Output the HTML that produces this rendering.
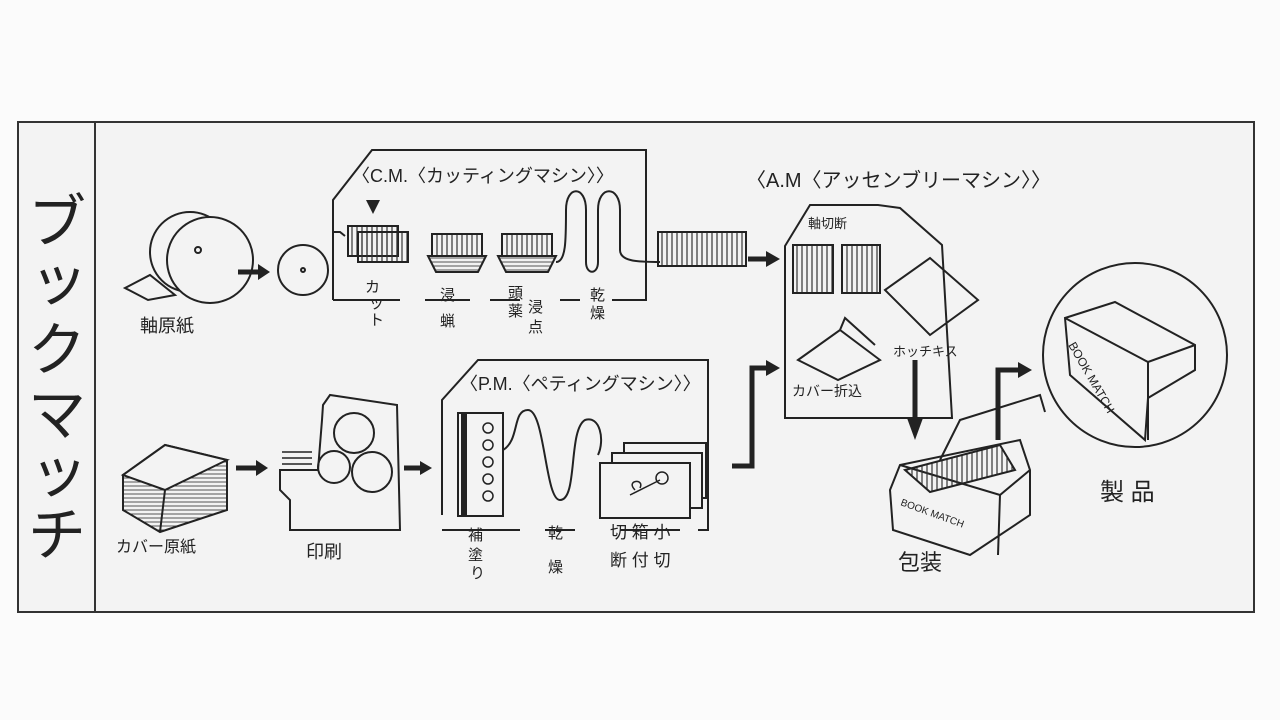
<!DOCTYPE html>
<html><head><meta charset="utf-8"><style>
html,body{margin:0;padding:0;background:#fbfbfb;width:1280px;height:720px;overflow:hidden}
svg{display:block}
text{font-family:"Liberation Sans","Noto Sans CJK JP",sans-serif;fill:#222}
</style></head><body>
<svg width="1280" height="720" viewBox="0 0 1280 720" xmlns="http://www.w3.org/2000/svg">
<defs>
<pattern id="v" width="5" height="10" patternUnits="userSpaceOnUse"><line x1="2" y1="0" x2="2" y2="10" stroke="#333" stroke-width="1.2"/></pattern>
<pattern id="h" width="10" height="4" patternUnits="userSpaceOnUse"><line x1="0" y1="2" x2="10" y2="2" stroke="#555" stroke-width="1"/></pattern>
</defs>
<rect x="0" y="0" width="1280" height="720" fill="#fbfbfb"/>
<rect x="18" y="122" width="1236" height="490" fill="#f3f3f3" stroke="#333" stroke-width="2"/>
<line x1="95" y1="122" x2="95" y2="612" stroke="#333" stroke-width="2"/>
<g font-size="58" fill="#222">
<text x="28" y="242">ブ</text><text x="30" y="300">ッ</text><text x="28" y="370">ク</text>
<text x="28" y="435">マ</text><text x="30" y="492">ッ</text><text x="28" y="555">チ</text>
</g>
<g fill="none" stroke="#222" stroke-width="2">
<circle cx="190" cy="252" r="40"/>
<circle cx="210" cy="260" r="43" fill="#f3f3f3"/>
<circle cx="198" cy="250" r="3"/>
<path d="M125 288 L150 275 L175 295 L148 300 Z"/>
<circle cx="303" cy="270" r="25"/><circle cx="303" cy="270" r="2"/>
<path d="M333 300 L333 200 L372 150 L646 150 L646 300 L612 300 M580 300 L560 300 M520 300 L490 300 M470 300 L425 300 M400 300 L333 300"/>
<path d="M333 232 L340 232 L345 236"/>
<rect x="348" y="226" width="50" height="30" fill="url(#v)"/>
<rect x="358" y="232" width="50" height="30" fill="url(#v)"/>
<rect x="432" y="234" width="50" height="22" fill="url(#v)"/>
<rect x="502" y="234" width="50" height="22" fill="url(#v)"/>
<path d="M428 256 h58 l-8 16 h-42 z M498 256 h58 l-8 16 h-42 z" fill="url(#h)"/>
<path d="M556 262 C566 262 566 240 566 210 C566 185 586 185 586 210 L586 262 C586 275 598 275 598 262 L598 210 C598 185 620 185 620 210 L620 250 C620 262 640 262 660 262"/>
<rect x="658" y="232" width="88" height="34" fill="url(#v)"/>
<path d="M442 515 L442 400 L478 360 L708 360 L708 530 L698 530 M680 530 L620 530 M575 530 L545 530 M520 530 L442 530"/>
<rect x="458" y="413" width="45" height="103"/>
<g stroke-width="1.5"><circle cx="488" cy="428" r="5"/><circle cx="488" cy="445" r="5"/><circle cx="488" cy="462" r="5"/><circle cx="488" cy="479" r="5"/><circle cx="488" cy="496" r="5"/></g>
<rect x="624" y="443" width="82" height="55" fill="#f3f3f3"/>
<rect x="612" y="453" width="90" height="55" fill="#f3f3f3"/>
<rect x="600" y="463" width="90" height="55" fill="#f3f3f3"/>
<path d="M630 495 L660 480 M635 490 C625 480 645 478 640 488" stroke-width="1.5"/><circle cx="662" cy="478" r="6" stroke-width="1.5"/>
<path d="M503 450 C520 440 512 410 528 410 C545 410 545 500 560 500 C578 500 568 430 585 420 C600 415 605 440 598 455"/>
<path d="M323 405 L330 395 L397 405 L400 530 L290 530 L290 500 L280 490 L280 470 L318 470 L322 420 Z"/>
<circle cx="354" cy="433" r="20"/><circle cx="334" cy="467" r="16"/><circle cx="372" cy="472" r="20"/>
<path d="M282 458 h30 M282 464 h30 M282 452 h30" stroke-width="1.5"/>
<path d="M123 475 L165 445 L227 460 L227 510 L160 532 L123 510 Z" fill="url(#h)"/>
<path d="M123 475 L165 445 L227 460 L165 490 Z" fill="#f3f3f3"/>
<path d="M165 490 L160 532"/>
<path d="M785 418 L785 246 L810 205 L878 205 L900 208 L942 245 L952 418 Z"/>
<rect x="793" y="245" width="40" height="48" fill="url(#v)"/><rect x="842" y="245" width="38" height="48" fill="url(#v)"/>
<path d="M885 290 L930 258 L978 300 L930 335 Z"/>
<path d="M798 360 L840 330 L880 360 L838 380 Z M840 330 L845 318 L875 345"/>
<path d="M890 490 L900 465 L1020 440 L1030 470 L1030 515 L970 555 L893 530 Z M900 465 L1000 495 L1030 470 M1000 495 L998 555"/>
<path d="M905 470 L1000 445 L1015 470 L930 492 Z" fill="url(#v)"/>
<path d="M940 460 L960 420 L1040 395 L1045 412"/>
<circle cx="1135" cy="355" r="92"/>
<path d="M1065 318 L1115 302 L1195 345 L1195 370 L1148 398 L1145 440 L1070 375 Z M1065 318 L1148 362 L1195 345 M1148 362 L1148 440"/>
</g>
<g fill="none" stroke="#222" stroke-width="5">
<line x1="238" y1="272" x2="258" y2="272"/>
<line x1="236" y1="468" x2="256" y2="468"/>
<line x1="404" y1="468" x2="422" y2="468"/>
<line x1="748" y1="259" x2="768" y2="259"/>
<path d="M732 466 L752 466 L752 368 L768 368"/>
<line x1="915" y1="360" x2="915" y2="420"/>
<path d="M998 440 L998 370 L1020 370"/>
</g>
<g fill="#222">
<polygon points="258,264 270,272 258,280"/>
<polygon points="256,460 268,468 256,476"/>
<polygon points="420,461 432,468 420,475"/>
<polygon points="766,251 780,259 766,267"/>
<polygon points="766,360 780,368 766,376"/>
<polygon points="907,418 915,440 923,418"/>
<polygon points="1018,362 1032,370 1018,378"/>
<polygon points="366,200 380,200 373,214"/>
<rect x="461" y="414" width="6" height="101"/>
</g>
<g font-size="15">
<text x="352" y="182" font-size="18">〈C.M.〈カッティングマシン〉〉</text>
<text x="460" y="390" font-size="18">〈P.M.〈ペティングマシン〉〉</text>
<text x="746" y="187" font-size="20">〈A.M〈アッセンブリーマシン〉〉</text>
<text x="140" y="332" font-size="18">軸原紙</text>
<text x="116" y="552" font-size="16">カバー原紙</text>
<text x="306" y="558" font-size="18">印刷</text>
<text x="365" y="292">カ</text><text x="369" y="308">ッ</text><text x="369" y="325">ト</text>
<text x="440" y="300">浸</text><text x="440" y="326">蝋</text>
<text x="508" y="298">頭</text><text x="508" y="316">薬</text><text x="528" y="312">浸</text><text x="528" y="332">点</text>
<text x="590" y="300">乾</text><text x="590" y="318">燥</text>
<text x="468" y="540">補</text><text x="468" y="560">塗</text><text x="470" y="578">り</text>
<text x="548" y="538">乾</text><text x="548" y="572">燥</text>
<text x="610" y="538" font-size="17">切 箱 小</text>
<text x="610" y="566" font-size="17">断 付 切</text>
<text x="808" y="228" font-size="13">軸切断</text>
<text x="893" y="356" font-size="13">ホッチキス</text>
<text x="792" y="396" font-size="14">カバー折込</text>
<text x="1100" y="500" font-size="24">製 品</text>
<text x="898" y="570" font-size="22">包装</text>
<text x="900" y="505" font-size="10" transform="rotate(20 900 505)">BOOK MATCH</text>
<text x="1068" y="345" font-size="12" transform="rotate(60 1068 345)">BOOK MATCH</text>
</g>
</svg>
</body></html>
